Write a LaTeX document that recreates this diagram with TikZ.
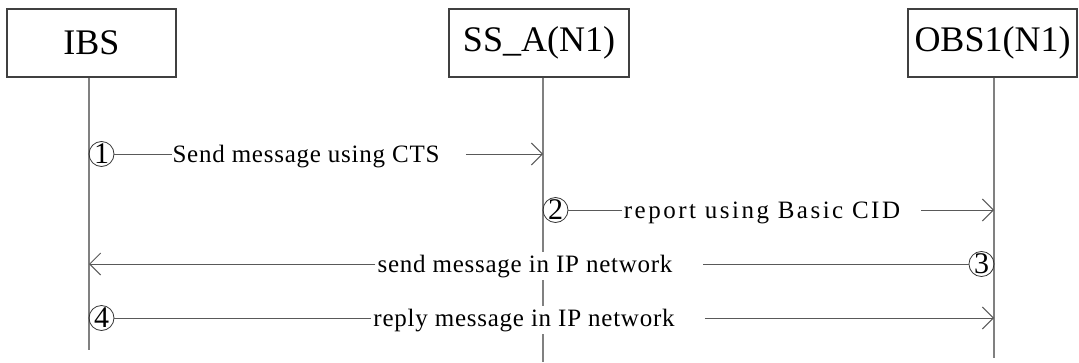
\documentclass[tikz,border=0pt]{standalone}
\usepackage{fontspec}
\setmainfont{Liberation Serif}
\newfontfamily\msgfont[LetterSpace=3]{Liberation Serif}
\usetikzlibrary{positioning,arrows.meta}
\tikzstyle{entity}=[draw=black!75,line width=1.2pt,minimum height=68pt,inner sep=0pt,font=\fontsize{36}{36}\selectfont]
\tikzstyle{lifeline}=[draw=black!50,line width=1.5pt]
\tikzstyle{stepno}=[draw=black!80,circle,line width=0.8pt,inner sep=0pt,minimum size=25pt,font=\fontsize{30}{30}\selectfont]
\tikzstyle{msgtext}=[fill=white,inner xsep=0pt,inner ysep=3pt,anchor=base,font=\msgfont\fontsize{25}{25}\selectfont]
\tikzstyle{msg}=[draw=black!65,line width=1pt]
\newcommand{\newEntity}[4]{\node[entity,minimum width=#3] (#1) at (#4) {#2};}
\newcommand{\newStep}[3]{\node[stepno] (#1) at (#3) {#2};}

\begin{document}
\begin{tikzpicture}[x=1pt,y=-1pt,
      >={Straight Barb[length=11pt,width=22pt]},
      semithick
      ]
      \useasboundingbox (0,0) rectangle (1079,362);
      % heads and lifelines
      \newEntity{IBS}{IBS}{169pt}{91.5,43}
      \newEntity{SSA}{SS\_A(N1)}{180pt}{539,43}
      \newEntity{OBS}{OBS1(N1)}{169pt}{992.5,43}
      \coordinate (IBSend) at (89,350);
      \coordinate (SSAend) at (543,362);
      \coordinate (OBSend) at (994,358);
      \draw[lifeline] (IBS.south -| IBSend) -- (IBSend);
      \draw[lifeline] (SSA.south -| SSAend) -- (SSAend);
      \draw[lifeline] (OBS.south -| OBSend) -- (OBSend);
      % messages
      \newStep{c1}{1}{101.5,154}
      \node[msgtext] (t1) at (306,162) {Send message using CTS};
      \draw[msg] (c1) -- (c1 -| t1.west);
      \draw[msg,->] ([xshift=26pt]c1 -| t1.east) -- (c1 -| SSAend);

      \newStep{c2}{2}{555.5,210}
      \node[msgtext,font=\addfontfeature{LetterSpace=10}\fontsize{25}{25}\selectfont] (t2) at (762,218) {report using Basic CID};
      \draw[msg] (c2) -- ([xshift=-2pt]c2 -| t2.west);
      \draw[msg,->] ([xshift=21pt]c2 -| t2.east) -- (c2 -| OBSend);

      \newStep{c3}{3}{981.5,264}
      \node[msgtext] (t3) at (525,272) {send message in IP network};
      \draw[msg] (c3) -- ([xshift=30pt]c3 -| t3.east);
      \draw[msg,->] ([xshift=-2pt]c3 -| t3.west) -- (c3 -| IBSend);

      \newStep{c4}{4}{101.5,318}
      \node[msgtext] (t4) at (524,326) {reply message in IP network};
      \draw[msg] (c4) -- ([xshift=-2pt]c4 -| t4.west);
      \draw[msg,->] ([xshift=30pt]c4 -| t4.east) -- (c4 -| OBSend);
\end{tikzpicture}
\end{document}
